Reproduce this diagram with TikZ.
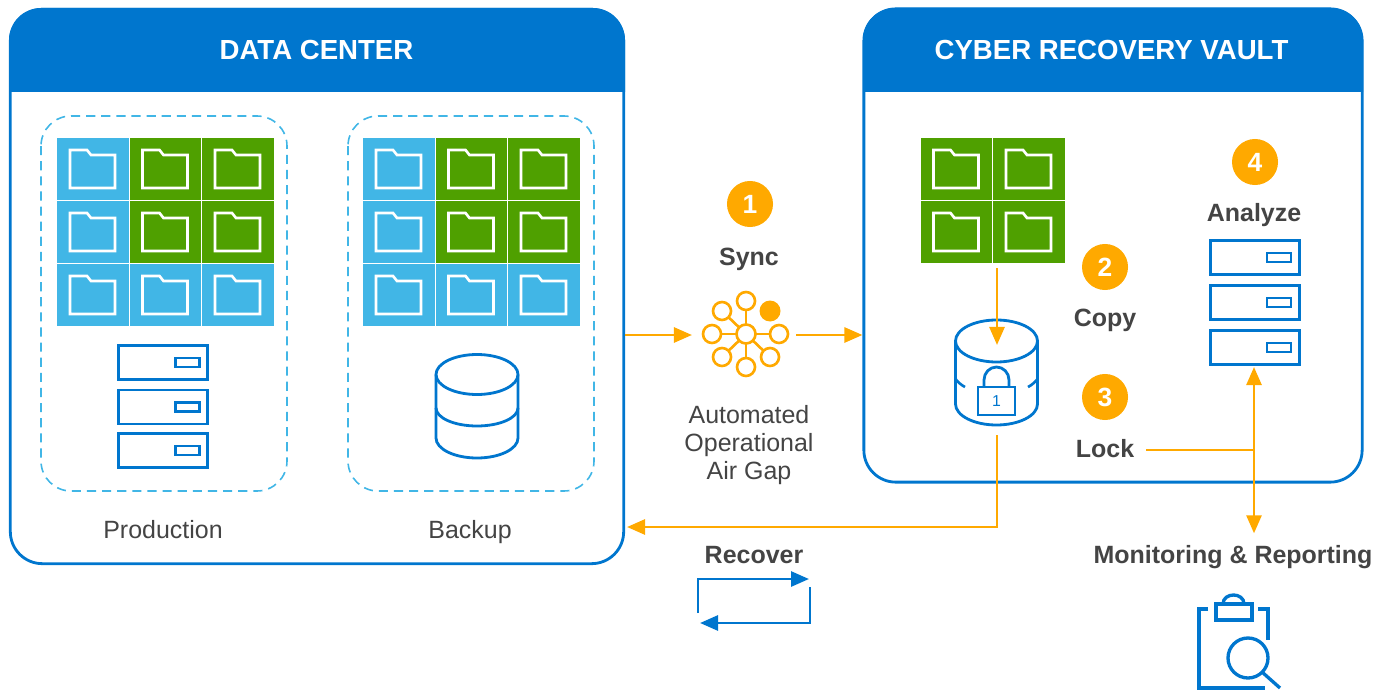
\documentclass[tikz,border=0pt]{standalone}
\usepackage{fontspec}
\setmainfont{Liberation Sans}
\usetikzlibrary{arrows.meta}
\definecolor{dellblue}{HTML}{0076CE}
\definecolor{skyblue}{HTML}{41B6E6}
\definecolor{tilegreen}{HTML}{4FA000}
\definecolor{flowgold}{HTML}{FFA900}
\definecolor{labelgray}{HTML}{444444}
\tikzset{
  panel/.style={draw=dellblue,line width=.8pt,rounded corners=.32cm,inner sep=0pt},
  zone/.style={draw=skyblue,line width=.45pt,rounded corners=.3cm,dash pattern=on 2.6pt off 1.7pt},
  ghost/.style={inner sep=0pt,outer sep=0pt},
  headline/.style={ghost,text=white,font=\fontsize{7.85pt}{9pt}\selectfont\bfseries},
  boldlabel/.style={ghost,text=labelgray,font=\fontsize{7.1pt}{8pt}\selectfont\bfseries},
  plainlabel/.style={ghost,text=labelgray,align=center,font=\fontsize{7.1pt}{8pt}\selectfont},
  badge/.style={circle,fill=flowgold,text=white,minimum size=.46cm,inner sep=0pt,font=\fontsize{7.5pt}{9pt}\selectfont\bfseries},
  flow/.style={draw=flowgold,line width=.75pt,-{Triangle[length=.18cm,width=.15cm]}},
  flowboth/.style={draw=flowgold,line width=.75pt,{Triangle[length=.18cm,width=.15cm]}-{Triangle[length=.18cm,width=.15cm]}},
  icon/.style={draw=dellblue,line width=.8pt},
  folderline/.style={draw=white,line width=.75pt},
  hubspoke/.style={draw=flowgold,line width=.75pt},
  hubline/.style={draw=flowgold,line width=.75pt,fill=white},
}
% one coloured tile with its folder; #1,#2 = top left corner
\newcommand{\foldertile}[3]{
  \fill[#3] (#1,#2) rectangle +(71.5,62);
  \draw[folderline] (#1,#2) ++(13,12) -- ++(17,0) -- ++(4,5) -- ++(24,0) -- ++(0,33) -- ++(-45,0) -- cycle;
}
\newcommand{\serverunit}[2]{
  \draw[icon] (#1,#2) rectangle +(89,34);
  \draw[icon,line width=.75pt] (#1,#2) ++(56.5,12.5) rectangle +(24,9);
}
\begin{document}
\begin{tikzpicture}[x=.01cm,y=-.01cm]
  \useasboundingbox (0,0) rectangle (1388,691);
  % data center
  \node[panel,minimum width=6.13cm,minimum height=5.54cm] (datacenter) at (317,286.5) {};
  \fill[dellblue] (9,92) [rounded corners=.32cm] -- (9,8) -- (625,8) [sharp corners] -- (625,92) -- cycle;
  \node[headline] (datatitle) at (316.5,50) {DATA CENTER};
  \draw[zone] (41,116) rectangle (287,491);
  \draw[zone] (348,116) rectangle (594,491);
  \foldertile{57}{138}{skyblue}
  \foldertile{129.5}{138}{tilegreen}
  \foldertile{202}{138}{tilegreen}
  \foldertile{57}{201}{skyblue}
  \foldertile{129.5}{201}{tilegreen}
  \foldertile{202}{201}{tilegreen}
  \foldertile{57}{264}{skyblue}
  \foldertile{129.5}{264}{skyblue}
  \foldertile{202}{264}{skyblue}
  \foldertile{363}{138}{skyblue}
  \foldertile{435.5}{138}{tilegreen}
  \foldertile{508}{138}{tilegreen}
  \foldertile{363}{201}{skyblue}
  \foldertile{435.5}{201}{tilegreen}
  \foldertile{508}{201}{tilegreen}
  \foldertile{363}{264}{skyblue}
  \foldertile{435.5}{264}{skyblue}
  \foldertile{508}{264}{skyblue}
  \serverunit{118.7}{345.5}
  \serverunit{118.7}{390}
  \serverunit{118.7}{433.5}
  % backup disk
  \draw[icon] (477,374.5) ellipse [x radius=41,y radius=20];
  \draw[icon] (436,374.5) -- (436,438) arc (180:0:41 and 20) -- (518,374.5);
  \draw[icon] (436,408) arc (180:0:41 and 18);
  \node[plainlabel] (production) at (163,530) {Production};
  \node[plainlabel] (backup) at (470,532) {Backup};
  % vault
  \node[panel,minimum width=4.98cm,minimum height=4.73cm] (vault) at (1113,245.5) {};
  \fill[dellblue] (863,92) [rounded corners=.32cm] -- (863,8) -- (1363,8) [sharp corners] -- (1363,92) -- cycle;
  \node[headline] (vaulttitle) at (1111.5,50) {CYBER RECOVERY VAULT};
  \foldertile{920.5}{138}{tilegreen}
  \foldertile{993}{138}{tilegreen}
  \foldertile{920.5}{201}{tilegreen}
  \foldertile{993}{201}{tilegreen}
  \node[ghost,minimum width=1.45cm,minimum height=1.30cm] (vaulttiles) at (993,203) {};
  \node[ghost,minimum width=.85cm,minimum height=.90cm] (vaultdisk) at (997,390) {};
  \draw[icon] (996.5,341) ellipse [x radius=41,y radius=21];
  \draw[icon] (955.5,341) -- (955.5,404) arc (180:0:41 and 21) -- (1037.5,341);
  \draw[icon,line width=.75pt] (955.5,379) .. controls (958,382) and (961,385) .. (965,387);
  \draw[icon,line width=.75pt] (1037.5,379) .. controls (1035,382) and (1032,385) .. (1028,387);
  \draw[icon] (978,387) rectangle (1015,415);
  \draw[icon] (984,387) -- (984,380) arc (180:360:12.5 and 13) -- (1009,387);
  \node[ghost,text=dellblue,font=\fontsize{4.5pt}{6pt}\selectfont] (locknum) at (996.5,401) {1};
  \node[badge] (copynum) at (1105,267) {2};
  \node[boldlabel] (copylabel) at (1105,320) {Copy};
  \node[badge] (locknumber) at (1105,397) {3};
  \node[boldlabel] (locklabel) at (1105,449) {Lock};
  \node[badge] (analyzenum) at (1255,162) {4};
  \node[boldlabel] (analyzelabel) at (1254,215) {Analyze};
  \serverunit{1210.5}{240.5}
  \serverunit{1210.5}{285.5}
  \serverunit{1210.5}{330.5}
  \node[ghost,minimum width=.92cm,minimum height=1.28cm] (analyzer) at (1255,303) {};
  % air gap
  \node[badge] (syncnum) at (750,204) {1};
  \node[boldlabel] (synclabel) at (749,259) {Sync};
  \node[ghost,minimum width=1.04cm,minimum height=.8cm] (hub) at (744,335) {};
  \draw[hubspoke] (746,301) -- (746,367);
  \draw[hubspoke] (712,334) -- (779,334);
  \draw[hubspoke] (722,311) -- (746,334);
  \draw[hubspoke] (722,357) -- (746,334);
  \draw[hubspoke] (746,334) -- (770,357);
  \draw[hubline] (746,334) circle [radius=9.5];
  \draw[hubline] (746,301) circle [radius=9];
  \draw[hubline] (746,367) circle [radius=9];
  \draw[hubline] (712,334) circle [radius=9];
  \draw[hubline] (779,334) circle [radius=9];
  \draw[hubline] (722,311) circle [radius=9];
  \draw[hubline] (722,357) circle [radius=9];
  \draw[hubline] (770,357) circle [radius=9];
  \fill[flowgold] (770,311) circle [radius=10.5];
  \node[plainlabel] (airgaplabel) at (749,445) {Automated\\Operational\\Air Gap};
  % connectors
  \coordinate (recoverin) at (627,527);
  \coordinate (lockout) at (1146,450);
  \coordinate (lockjoin) at (1254,450);
  \node[boldlabel] (recoverlabel) at (754,555) {Recover};
  \node[boldlabel] (monitorlabel) at (1233,557) {Monitoring \& Reporting};
  \draw[flow] (datacenter.east |- hub) -- (hub.west);
  \draw[flow] (hub.east) -- (vault.west |- hub);
  \draw[flow] (vaulttiles.south -| vaultdisk) -- (vaultdisk.north);
  \draw[flow] (vaultdisk.south) |- (recoverin);
  \draw[flowgold,line width=.75pt] (lockout) -- (lockjoin);
  \draw[flowboth] (analyzer.south -| lockjoin) -- ([yshift=.12cm]monitorlabel.north -| lockjoin);
  % recover icon
  \draw[icon,-{Triangle[length=.18cm,width=.15cm]}] (698,613) -- (698,579) -- (809,579);
  \draw[icon,-{Triangle[length=.18cm,width=.15cm]}] (810,587) -- (810,623) -- (700,623);
  % report icon
  \draw[icon,line width=.95pt] (1208,609) -- (1199,609) -- (1199,688) -- (1265,688);
  \draw[icon,line width=.95pt] (1258,609) -- (1268,609) -- (1268,640);
  \draw[icon,line width=.95pt] (1216,604) rectangle (1252,620);
  \draw[icon,line width=.95pt] (1223,604) .. controls (1223,592) and (1244,592) .. (1244,604);
  \draw[icon,line width=.95pt] (1248,658) circle [radius=20];
  \draw[icon,line width=.95pt] (1262,672) -- (1280,688);
\end{tikzpicture}
\end{document}
